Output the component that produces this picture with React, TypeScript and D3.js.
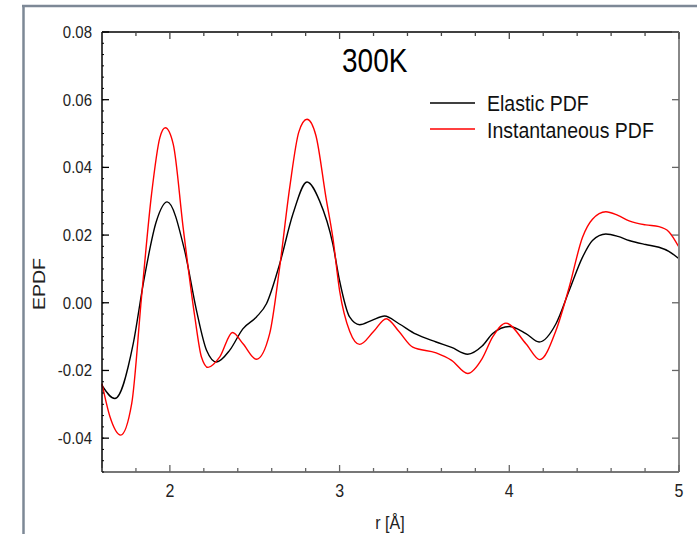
import React from "react";
import * as d3 from "d3";

const rElastic = [1.6, 1.676, 1.784, 1.843, 1.92, 1.984, 2.087, 2.157, 2.216, 2.275, 2.353, 2.43, 2.51, 2.569, 2.647, 2.725, 2.808, 2.882, 2.96, 3.0, 3.059, 3.118, 3.19, 3.265, 3.35, 3.451, 3.569, 3.66, 3.755, 3.84, 3.902, 4.0, 4.098, 4.176, 4.275, 4.353, 4.431, 4.49, 4.569, 4.64, 4.706, 4.804, 4.882, 4.94, 5.0];
const vElastic = [-0.0244, -0.0283, -0.0121, 0.0056, 0.024, 0.0298, 0.0154, -0.0023, -0.014, -0.0175, -0.014, -0.0077, -0.0042, -0.0003, 0.0115, 0.0262, 0.0357, 0.0301, 0.0174, 0.0065, -0.0042, -0.0065, -0.0052, -0.0039, -0.0062, -0.0093, -0.0116, -0.0132, -0.0152, -0.0128, -0.0091, -0.007, -0.0091, -0.0116, -0.0062, 0.0036, 0.0134, 0.0184, 0.0203, 0.0196, 0.0184, 0.0172, 0.0164, 0.0152, 0.013];

const rInst = [1.6, 1.647, 1.71, 1.775, 1.833, 1.892, 1.941, 1.973, 2.02, 2.078, 2.147, 2.186, 2.225, 2.294, 2.369, 2.431, 2.51, 2.588, 2.647, 2.706, 2.76, 2.808, 2.86, 2.92, 2.96, 3.0, 3.06, 3.118, 3.2, 3.275, 3.35, 3.431, 3.569, 3.66, 3.755, 3.84, 3.902, 3.98, 4.098, 4.18, 4.275, 4.353, 4.431, 4.49, 4.569, 4.64, 4.706, 4.804, 4.882, 4.94, 5.0];
const vInst = [-0.0239, -0.0337, -0.0391, -0.0298, 0.0017, 0.0321, 0.0488, 0.0517, 0.0468, 0.0223, -0.0042, -0.016, -0.0191, -0.016, -0.0088, -0.0121, -0.0167, -0.0091, 0.0105, 0.034, 0.0505, 0.0542, 0.0495, 0.031, 0.0193, 0.0036, -0.0085, -0.0123, -0.0085, -0.0047, -0.0085, -0.0131, -0.0148, -0.017, -0.0209, -0.0165, -0.0101, -0.006, -0.0121, -0.0168, -0.0082, 0.0046, 0.0193, 0.0247, 0.0269, 0.0258, 0.0242, 0.023, 0.0225, 0.021, 0.0164];

const yTicks = [0.08, 0.06, 0.04, 0.02, 0.0, -0.02, -0.04];
const xTicks = [2, 3, 4, 5];
const seriesNames = ["Elastic PDF", "Instantaneous PDF"];
const seriesColors = ["#000000", "#ff0000"];
const title = "300K";
const xLabel = "r [Å]";
const yLabel = "EPDF";

export default function App() {
  const W = 698, H = 534;
  const L = 102, R = 679, T = 32, B = 472;
  const x = d3.scaleLinear().domain([1.6, 5]).range([L, R]);
  const y = d3.scaleLinear().domain([-0.05, 0.08]).range([B, T]);
  const line = d3.line<[number, number]>().x(d => x(d[0])).y(d => y(d[1])).curve(d3.curveMonotoneX);
  const elastic = rElastic.map((r, i) => [r, vElastic[i]] as [number, number]);
  const inst = rInst.map((r, i) => [r, vInst[i]] as [number, number]);
  const xMinor = d3.range(1.6, 5.0001, 0.2);
  const yMinor = d3.range(0, 39).map(i => -0.05 + i * (0.02 / 6)).filter(v => v <= 0.0801);
  const font = "'Liberation Sans', Arial, sans-serif";
  const sy = 1.15;
  return (
    <svg width={W} height={H} style={{ position: "absolute", left: 0, top: 0, background: "#fff" }} fontFamily={font}>
      <rect x={0} y={0} width={W} height={H} fill="#fff" />
      <line x1={22} x2={697} y1={6} y2={6} stroke="#7d8896" strokeWidth={2.5} />
      <line x1={23.5} x2={23.5} y1={5} y2={534} stroke="#7d8896" strokeWidth={2.5} />
      <path d={line(elastic) || ""} fill="none" stroke={seriesColors[0]} strokeWidth={1.4} />
      <path d={line(inst) || ""} fill="none" stroke={seriesColors[1]} strokeWidth={1.4} />
      <line x1={L} x2={R} y1={T} y2={T} stroke="#000" strokeWidth={1.5} />
      <line x1={L} x2={R} y1={B} y2={B} stroke="#777" strokeWidth={2} />
      <line x1={L} x2={L} y1={T} y2={B} stroke="#000" strokeWidth={1.5} />
      <line x1={R} x2={R} y1={T} y2={B} stroke="#888" strokeWidth={2} />
      {xMinor.map((v, i) => {
        const major = Math.abs(v - Math.round(v)) < 1e-6;
        const len = major ? 7 : 4;
        return (
          <g key={"xt" + i}>
            <line x1={x(v)} x2={x(v)} y1={B} y2={B - len} stroke="#666" strokeWidth={1.3} />
            <line x1={x(v)} x2={x(v)} y1={T} y2={T + len} stroke="#444" strokeWidth={1.3} />
          </g>
        );
      })}
      {yMinor.map((v, i) => (
        <line key={"ym" + i} x1={L} x2={L + 2} y1={y(v)} y2={y(v)} stroke="#000" strokeWidth={1} />
      ))}
      {yTicks.map((v, i) => (
        <g key={"yt" + i}>
          <line x1={L} x2={L + 7} y1={y(v)} y2={y(v)} stroke="#000" strokeWidth={1.3} />
          <line x1={R} x2={R - 7} y1={y(v)} y2={y(v)} stroke="#666" strokeWidth={1.3} />
          <text transform={`translate(92,${y(v) + 6}) scale(1,${sy})`} textAnchor="end" fontSize={15} fill="#222">{v.toFixed(2)}</text>
        </g>
      ))}
      {xTicks.map((v, i) => (
        <text key={"xl" + i} transform={`translate(${x(v)},${497}) scale(1,${sy})`} textAnchor="middle" fontSize={16} fill="#222">{v}</text>
      ))}
      <text transform={`translate(390,529) scale(1,${sy})`} textAnchor="middle" fontSize={16} fill="#222">{xLabel}</text>
      <text transform={`translate(45,284) rotate(-90) scale(${sy},1)`} textAnchor="middle" fontSize={17} fill="#222">{yLabel}</text>
      <text transform={`translate(342,72) scale(1,1.18)`} fontSize={28} fill="#000">{title}</text>
      {seriesNames.map((n, i) => (
        <g key={"lg" + i}>
          <line x1={430} x2={475} y1={103 + i * 26} y2={103 + i * 26} stroke={seriesColors[i]} strokeWidth={1.4} />
          <text transform={`translate(487,${111 + i * 26.5}) scale(1,1.12)`} fontSize={19.5} fill="#111">{n}</text>
        </g>
      ))}
    </svg>
  );
}
